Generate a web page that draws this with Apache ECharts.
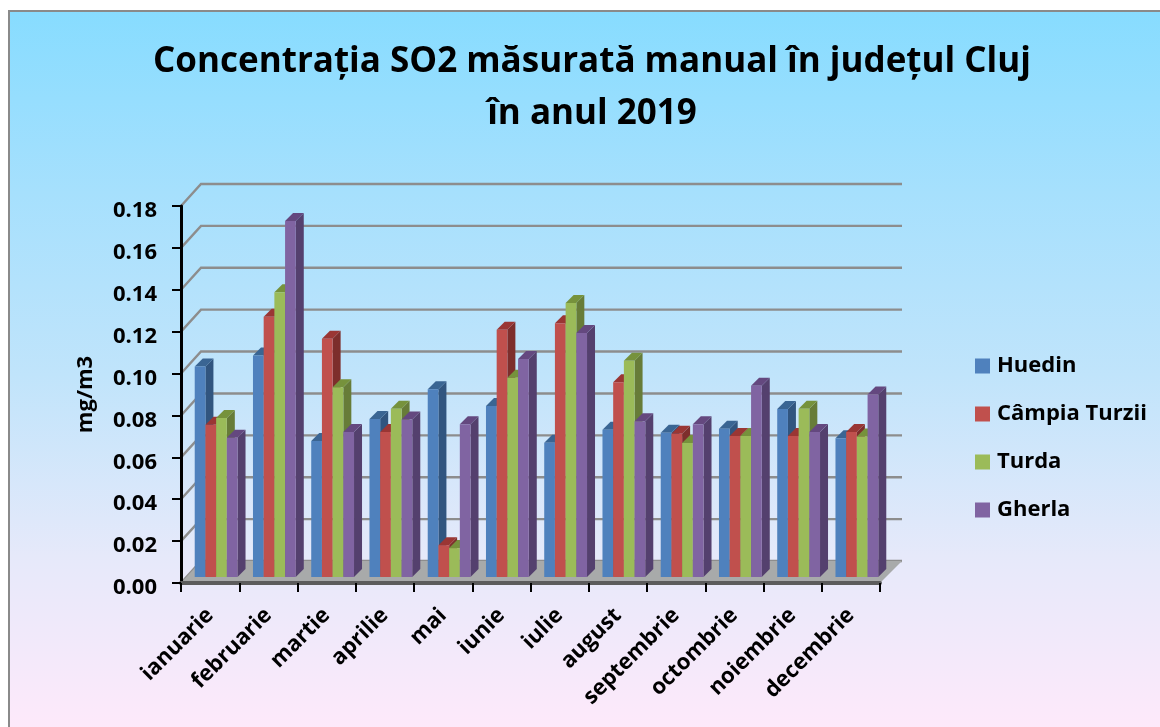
<!DOCTYPE html>
<html><head><meta charset="utf-8">
<style>html,body{margin:0;padding:0;background:#fff}#c{width:1160px;height:727px}</style>
<script src="https://cdn.jsdelivr.net/npm/echarts@6/dist/echarts.min.js"></script></head>
<body><div id="c"></div>
<script>
const titleText = 'Concentrația SO2 măsurată manual în județul Cluj\nîn anul 2019';
const yAxisName = 'mg/m3';
const months = ['ianuarie','februarie','martie','aprilie','mai','iunie','iulie','august','septembrie','octombrie','noiembrie','decembrie'];
const seriesNames = ['Huedin','Câmpia Turzii','Turda','Gherla'];
const huedin = [0.1005,0.1057,0.0649,0.0754,0.0897,0.0816,0.0641,0.0703,0.0689,0.0708,0.0802,0.0663];
const campiaTurzii = [0.0727,0.1243,0.1137,0.0692,0.0152,0.1181,0.1211,0.0930,0.0684,0.0673,0.0673,0.0692];
const turda = [0.0759,0.1359,0.0906,0.0803,0.0138,0.0951,0.1308,0.1033,0.0640,0.0673,0.0803,0.0671];
const gherla = [0.0665,0.1700,0.0692,0.0752,0.0729,0.1041,0.1165,0.0744,0.0729,0.0913,0.0692,0.0871];
const yTicks = [0,0.02,0.04,0.06,0.08,0.10,0.12,0.14,0.16,0.18];
const values = [huedin,campiaTurzii,turda,gherla];
const palettes = [
  {front:'#4f81bd',side:'#31557f',top:'#3a6593'},
  {front:'#c0504d',side:'#7d2e2c',top:'#9a3634'},
  {front:'#9bbb59',side:'#677c38',top:'#76923c'},
  {front:'#8064a2',side:'#54406e',top:'#64487f'}
];
const FONT='Open Sans';
const chart = echarts.init(document.getElementById('c'),null,{renderer:'canvas'});
const wallDX=20, wallDY=22, barShiftX=6, barShiftY=6, barDepth=8, barW=10.7, wallRight=902;
function renderWall(params,api){
  const cs=params.coordSys, y=api.coord([0,api.value(0)])[1], l=cs.x;
  return {type:'polyline',shape:{points:[[l,y],[l+wallDX,y-wallDY],[wallRight,y-wallDY]]},
    style:{stroke:'#8d8d8d',lineWidth:2.4,fill:null}};
}
function renderFloor(params,api){
  const cs=params.coordSys, y=api.coord([0,api.value(0)])[1], l=cs.x, r=cs.x+cs.width;
  return {type:'polygon',shape:{points:[[l,y],[r,y],[wallRight,y-wallDY],[l+wallDX,y-wallDY]]},
    style:{fill:'#a8aaaa'}};
}
function barRenderer(si){
  return function(params,api){
    const p=palettes[si], base=api.coord([api.value(0),0]), top=api.coord([api.value(0),api.value(1)]);
    const x=top[0]-2*barW+si*barW+barShiftX, w=barW, yT=top[1]-barShiftY, yB=base[1]-barShiftY, d=barDepth;
    return {type:'group',children:[
      {type:'polygon',shape:{points:[[x+w,yT],[x+w+d,yT-d],[x+w+d,yB-d],[x+w,yB]]},style:{fill:p.side}},
      {type:'polygon',shape:{points:[[x,yT],[x+d,yT-d],[x+w+d,yT-d],[x+w,yT]]},style:{fill:p.top}},
      {type:'rect',shape:{x:x,y:yT,width:w,height:yB-yT},style:{fill:p.front}}
    ]};
  };
}
const series=[
  {name:'wall',type:'custom',z:1,silent:true,clip:false,data:yTicks.map(v=>[v]),renderItem:renderWall},
  {name:'floor',type:'custom',z:1,silent:true,clip:false,data:[[0]],renderItem:renderFloor}
];
seriesNames.forEach((n,si)=>series.push({
  name:n,type:'custom',z:2+si,clip:false,animation:false,
  itemStyle:{color:palettes[si].front},
  data:months.map((m,i)=>[i,values[si][i]]),
  renderItem:barRenderer(si)
}));
chart.setOption({
  animation:false,
  backgroundColor:'#ffffff',
  graphic:[{type:'rect',z:-10,shape:{x:9,y:11,width:1160,height:727},
    style:{stroke:'#8a8a8a',lineWidth:2,fill:new echarts.graphic.LinearGradient(0,0,0,1,[
      {offset:0,color:'#87dcff'},{offset:0.25,color:'#a6e0fd'},{offset:0.5,color:'#c0e4fb'},{offset:0.75,color:'#e6e9fa'},{offset:1,color:'#ffe9fa'}])}}],
  title:{text:titleText,left:587,top:31,textAlign:'center',
    textStyle:{fontFamily:FONT,fontWeight:'bold',fontSize:35,lineHeight:52,color:'#000'}},
  legend:{orient:'vertical',left:970,top:347,itemWidth:15,itemHeight:15,itemGap:20,icon:'rect',
    data:seriesNames,textStyle:{fontFamily:FONT,fontWeight:'bold',fontSize:22,lineHeight:28,height:28,color:'#000',padding:[0,0,0,2]}},
  grid:{left:181,right:280,top:206,bottom:144},
  xAxis:{type:'category',data:months,z:5,
    axisLine:{lineStyle:{color:'#5c5c5c',width:4}},
    axisTick:{show:true,alignWithLabel:false,length:9,lineStyle:{color:'#000',width:2}},
    axisLabel:{rotate:45,interval:0,margin:29,fontFamily:FONT,fontWeight:'bold',fontSize:22,color:'#000'}},
  yAxis:{type:'value',min:0,max:0.18,interval:0.02,z:5,
    name:yAxisName,nameLocation:'middle',nameGap:84,nameRotate:90,
    nameTextStyle:{fontFamily:FONT,fontWeight:'bold',fontSize:22,color:'#000'},
    splitLine:{show:false},
    axisLine:{show:true,lineStyle:{color:'#000',width:3}},
    axisTick:{show:true,length:9,lineStyle:{color:'#000',width:2}},
    axisLabel:{margin:24,verticalAlign:'top',lineHeight:10,fontFamily:FONT,fontWeight:'bold',fontSize:22,color:'#000',formatter:v=>v.toFixed(2)}},
  series:series
});
</script></body></html>
